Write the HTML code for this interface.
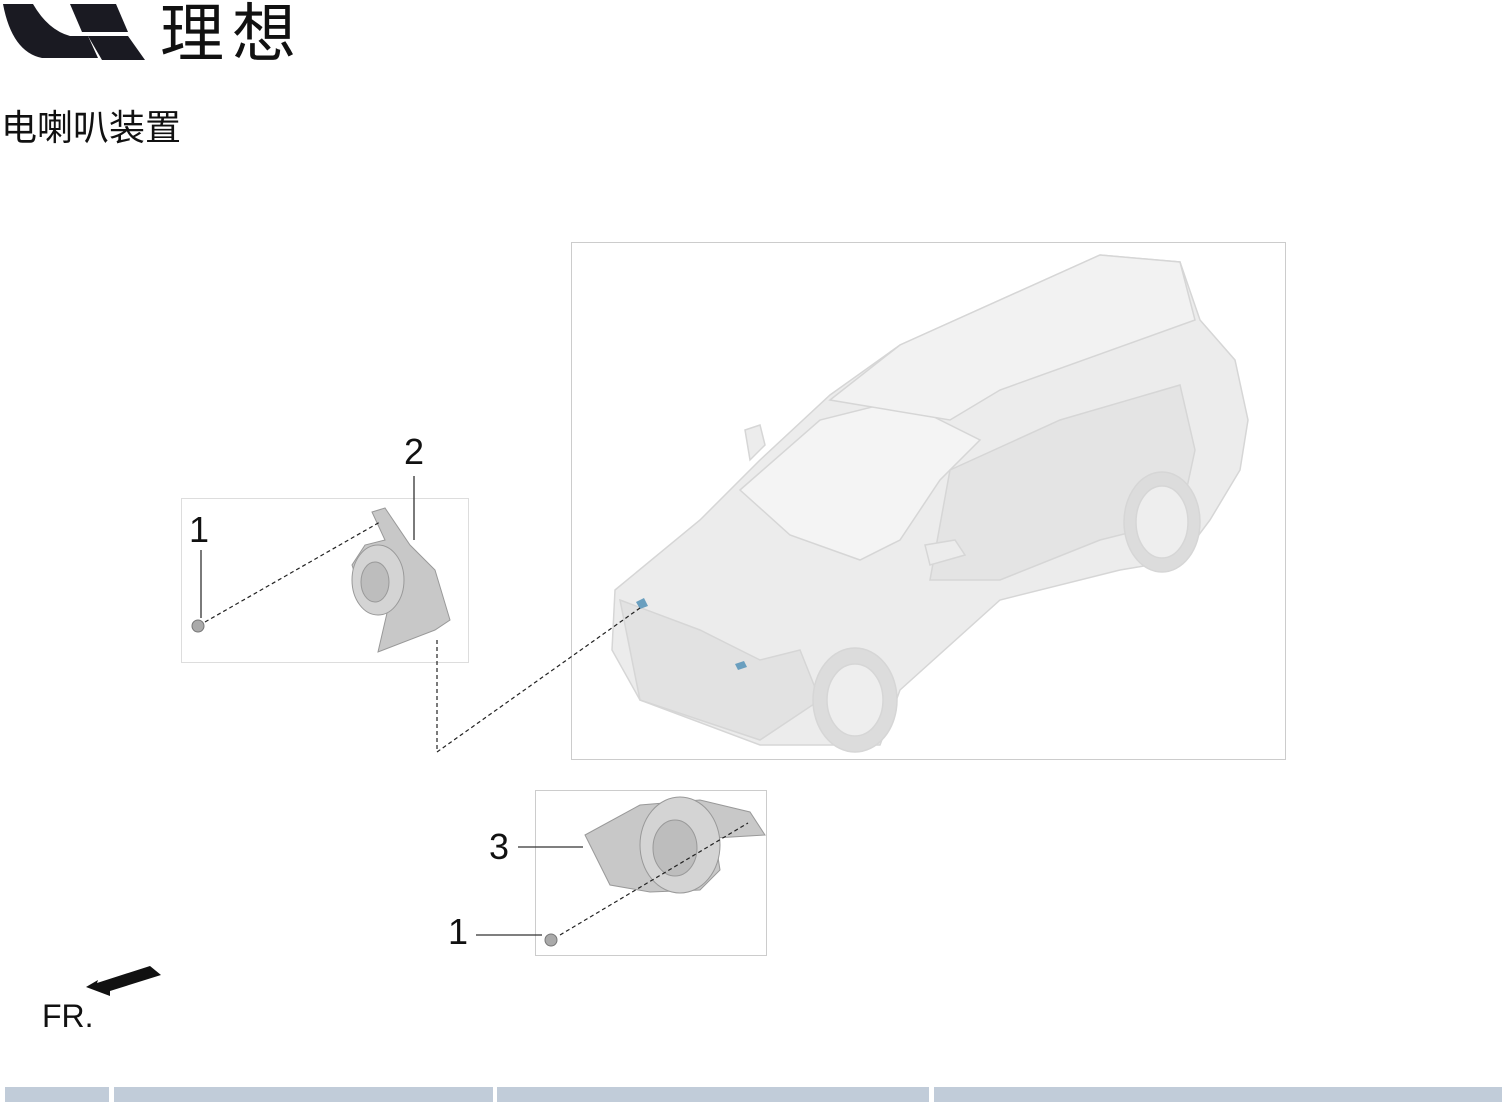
<!DOCTYPE html>
<html><head><meta charset="utf-8"><style>
body{margin:0;width:1504px;height:1102px;background:#fff;overflow:hidden;position:relative;font-family:"Liberation Sans","Noto Sans CJK SC",sans-serif}
.t{position:absolute;color:#111;line-height:1}
</style></head><body>
<svg width="1504" height="1102" style="position:absolute;left:0;top:0">
<!-- logo -->
<path d="M3 4 L33 4 Q48 30 70 36 L88 36 L98 58 L42 58 Q12 52 3 4Z" fill="#1a1a22"/>
<path d="M70 4 L116 4 L128 32 L82 32Z" fill="#1a1a22"/>
<path d="M88 36 L128 36 L145 60 L102 60Z" fill="#1a1a22"/>
<!-- boxes -->
<rect x="181.5" y="498.5" width="287" height="164" fill="none" stroke="#ddd"/>
<rect x="571.5" y="242.5" width="714" height="517" fill="none" stroke="#ccc"/>
<rect x="535.5" y="790.5" width="231" height="165" fill="none" stroke="#ccc"/>
<!-- car -->
<g fill="#ececec" stroke="#d6d6d6" stroke-width="1.5">
<path d="M615 590 L700 520 L760 460 L830 395 L900 345 L1100 255 L1180 262 L1200 320 L1235 360 L1248 420 L1240 470 L1210 520 L1180 560 L1120 570 L1000 600 L900 690 L880 745 L760 745 L640 700 L612 650Z"/>
<path d="M740 490 L820 420 L900 400 L980 440 L940 480 L900 540 L860 560 L790 535Z" fill="#f4f4f4"/>
<path d="M830 400 L900 345 L1100 255 L1180 262 L1195 320 L1000 390 L950 420Z" fill="#f2f2f2"/>
<path d="M950 470 L1060 420 L1180 385 L1195 450 L1180 520 L1100 540 L1000 580 L930 580Z" fill="#e4e4e4"/>
<path d="M620 600 L700 630 L760 660 L800 650 L820 700 L760 740 L640 700Z" fill="#e2e2e2"/>
<ellipse cx="855" cy="700" rx="42" ry="52" fill="#dcdcdc"/>
<ellipse cx="855" cy="700" rx="28" ry="36" fill="#eee"/>
<ellipse cx="1162" cy="522" rx="38" ry="50" fill="#dcdcdc"/>
<ellipse cx="1162" cy="522" rx="26" ry="36" fill="#eee"/>
<path d="M745 430 L760 425 L765 445 L750 460Z"/>
<path d="M925 545 L955 540 L965 555 L930 565Z"/>
</g>
<path d="M636 602 l8 -4 l4 8 l-8 3z" fill="#6a9fbf"/>
<path d="M735 664 l9 -3 l3 6 l-9 3z" fill="#6a9fbf"/>
<!-- horn 2 -->
<g fill="#c8c8c8" stroke="#999" stroke-width="1">
<path d="M372 512 L385 508 L410 545 L435 570 L450 620 L435 630 L378 652 L390 600 L360 590 L352 565 L365 545 L385 540Z"/>
<ellipse cx="378" cy="580" rx="26" ry="35" fill="#d4d4d4"/>
<ellipse cx="375" cy="582" rx="14" ry="20" fill="#bdbdbd"/>
</g>
<circle cx="198" cy="626" r="6" fill="#aaa" stroke="#777"/>
<!-- horn 3 -->
<g fill="#c8c8c8" stroke="#999" stroke-width="1">
<path d="M585 835 L640 805 L700 800 L750 812 L765 835 L715 838 L720 870 L700 890 L650 892 L610 885 Z"/>
<ellipse cx="680" cy="845" rx="40" ry="48" fill="#d4d4d4"/>
<ellipse cx="675" cy="848" rx="22" ry="28" fill="#bdbdbd"/>
</g>
<circle cx="551" cy="940" r="6" fill="#aaa" stroke="#777"/>
<!-- dashed -->
<g stroke="#222" stroke-width="1.2" stroke-dasharray="4,3" fill="none">
<path d="M205 622 L380 522"/>
<path d="M437 640 L437 752 L640 608"/>
<path d="M560 935 L748 823"/>
</g>
<g stroke="#333" stroke-width="1.3">
<line x1="201" y1="550" x2="201" y2="618"/>
<line x1="414" y1="476" x2="414" y2="540"/>
<line x1="518" y1="847" x2="583" y2="847"/>
<line x1="476" y1="935" x2="542" y2="935"/>
</g>
<!-- FR arrow -->
<path d="M86 987 L98 980 L97 983 L150 966 L161 975 L110 991 L110 996 Z" fill="#111"/>
<!-- bottom bar -->
<g fill="#c1ccd9">
<rect x="5" y="1087" width="104" height="15"/>
<rect x="114" y="1087" width="379" height="15"/>
<rect x="497" y="1087" width="432" height="15"/>
<rect x="934" y="1087" width="568" height="15"/>
</g>
</svg>
<div class="t" style="left:160px;top:2px;font-size:64px;letter-spacing:8px">理想</div>
<div class="t" style="left:1px;top:110px;font-size:36px">电喇叭装置</div>
<div class="t" style="left:189px;top:512px;font-size:36px">1</div>
<div class="t" style="left:404px;top:434px;font-size:36px">2</div>
<div class="t" style="left:489px;top:829px;font-size:36px">3</div>
<div class="t" style="left:448px;top:914px;font-size:36px">1</div>
<div class="t" style="left:42px;top:1000px;font-size:32px">FR.</div>
</body></html>
